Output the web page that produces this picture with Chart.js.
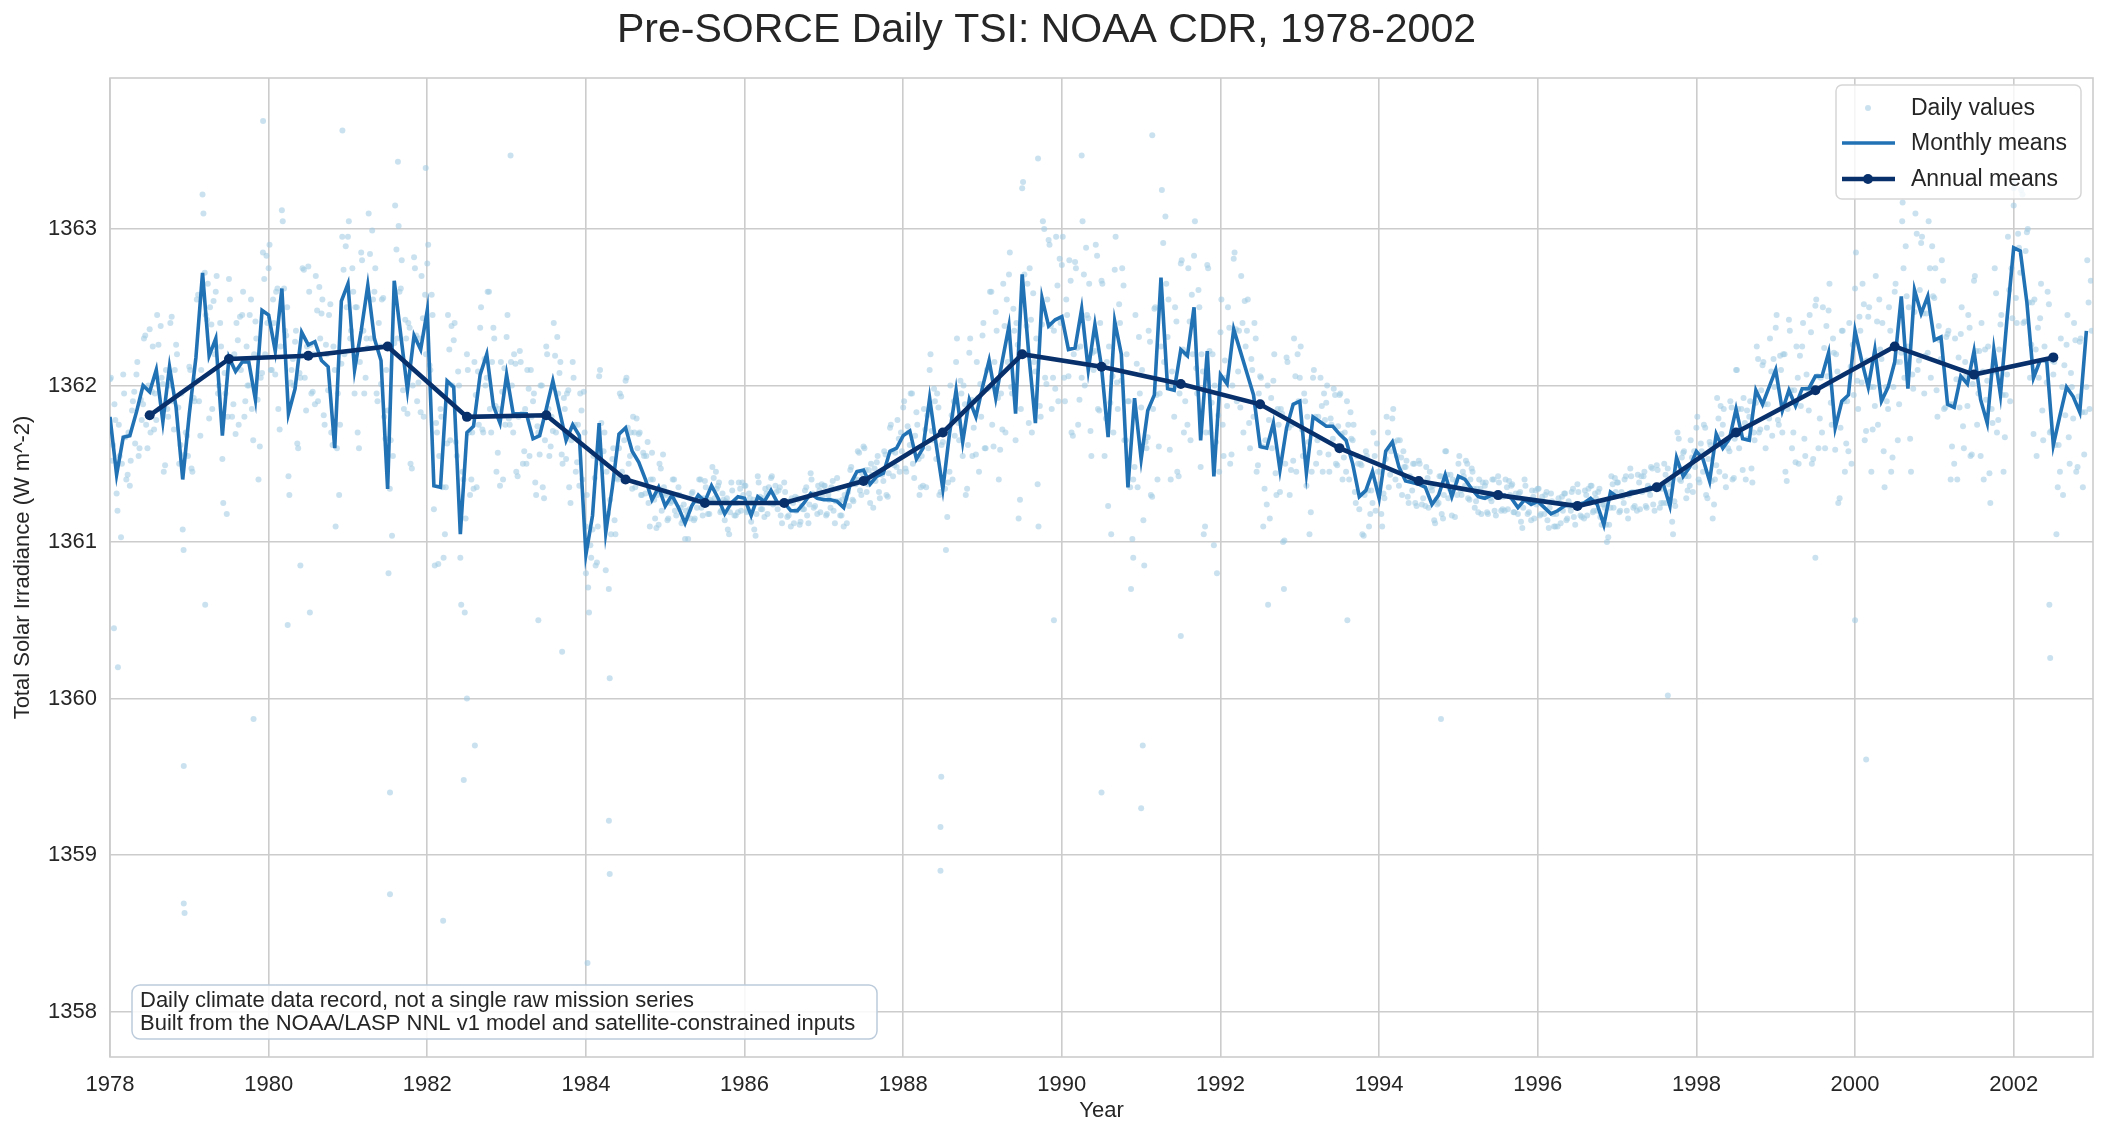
<!DOCTYPE html>
<html lang="en">
<head>
<meta charset="UTF-8">
<title>Pre-SORCE Daily TSI: NOAA CDR, 1978-2002</title>
<script src="https://cdn.jsdelivr.net/npm/chart.js"></script>
<style>
  html, body { margin: 0; padding: 0; background: #fff; }
  canvas { display: block; }
</style>
</head>
<body>
<canvas id="tsiChart" width="2108" height="1141"></canvas>
<script>
// monthly means, Jan 1978 .. Dec 2002 (W m^-2)
const monthStartYear = 1978;
const monthlyTSI = [
  1361.80, 1361.43, 1361.67, 1361.68, 1361.83, 1362.00, 1361.96, 1362.10, 1361.77, 1362.12, 1361.86, 1361.40,
  1361.82, 1362.18, 1362.72, 1362.19, 1362.30, 1361.68, 1362.18, 1362.09, 1362.15, 1362.15, 1361.91, 1362.48,
  1362.45, 1362.22, 1362.62, 1361.82, 1361.98, 1362.34, 1362.26, 1362.28, 1362.16, 1362.12, 1361.60, 1362.54,
  1362.65, 1362.10, 1362.35, 1362.64, 1362.30, 1362.16, 1361.34, 1362.67, 1362.32, 1361.97, 1362.32, 1362.23,
  1362.48, 1361.36, 1361.35, 1362.03, 1361.99, 1361.05, 1361.70, 1361.74, 1362.07, 1362.20, 1361.87, 1361.76,
  1362.07, 1361.82, 1361.82, 1361.82, 1361.66, 1361.68, 1361.85, 1362.03, 1361.84, 1361.65, 1361.75, 1361.68,
  1360.92, 1361.17, 1361.76, 1361.06, 1361.35, 1361.69, 1361.73, 1361.58, 1361.51, 1361.40, 1361.27, 1361.35,
  1361.23, 1361.30, 1361.22, 1361.12, 1361.23, 1361.30, 1361.26, 1361.36, 1361.28, 1361.18, 1361.25, 1361.29,
  1361.28, 1361.17, 1361.29, 1361.26, 1361.33, 1361.25, 1361.25, 1361.20, 1361.20, 1361.25, 1361.31, 1361.28,
  1361.27, 1361.27, 1361.26, 1361.22, 1361.37, 1361.45, 1361.46, 1361.37, 1361.42, 1361.44, 1361.58, 1361.60,
  1361.68, 1361.71, 1361.53, 1361.60, 1361.92, 1361.62, 1361.34, 1361.69, 1361.97, 1361.64, 1361.91, 1361.80,
  1361.99, 1362.16, 1361.92, 1362.16, 1362.38, 1361.82, 1362.71, 1362.20, 1361.76, 1362.56, 1362.38, 1362.42,
  1362.44, 1362.23, 1362.24, 1362.49, 1362.10, 1362.39, 1362.12, 1361.67, 1362.41, 1362.20, 1361.35, 1361.92,
  1361.53, 1361.84, 1361.94, 1362.69, 1361.98, 1361.97, 1362.23, 1362.19, 1362.50, 1361.65, 1362.22, 1361.42,
  1362.07, 1362.01, 1362.36, 1362.22, 1362.08, 1361.94, 1361.61, 1361.60, 1361.76, 1361.46, 1361.73, 1361.88,
  1361.90, 1361.44, 1361.80, 1361.77, 1361.74, 1361.74, 1361.69, 1361.65, 1361.50, 1361.29, 1361.33, 1361.45,
  1361.28, 1361.58, 1361.64, 1361.48, 1361.39, 1361.38, 1361.37, 1361.35, 1361.24, 1361.30, 1361.43, 1361.29,
  1361.42, 1361.40, 1361.34, 1361.29, 1361.28, 1361.30, 1361.29, 1361.30, 1361.28, 1361.22, 1361.27, 1361.24,
  1361.26, 1361.22, 1361.18, 1361.20, 1361.23, 1361.24, 1361.24, 1361.25, 1361.28, 1361.24, 1361.11, 1361.32,
  1361.29, 1361.30, 1361.32, 1361.32, 1361.33, 1361.35, 1361.34, 1361.37, 1361.23, 1361.54, 1361.42, 1361.48,
  1361.58, 1361.53, 1361.39, 1361.69, 1361.60, 1361.66, 1361.85, 1361.66, 1361.65, 1361.97, 1361.88, 1361.99,
  1362.10, 1361.84, 1361.97, 1361.87, 1361.98, 1361.98, 1362.06, 1362.06, 1362.21, 1361.73, 1361.90, 1361.94,
  1362.35, 1362.16, 1361.99, 1362.23, 1361.90, 1361.99, 1362.15, 1362.57, 1361.98, 1362.61, 1362.46, 1362.57,
  1362.29, 1362.31, 1361.88, 1361.86, 1362.06, 1362.01, 1362.22, 1361.91, 1361.76, 1362.23, 1361.94, 1362.43,
  1362.88, 1362.86, 1362.53, 1362.05, 1362.16, 1362.16, 1361.62, 1361.81, 1361.99, 1361.93, 1361.83, 1362.35
];

const annualYears = [1978.5, 1979.5, 1980.5, 1981.5, 1982.5, 1983.5, 1984.5, 1985.5, 1986.5, 1987.5, 1988.5, 1989.5,
  1990.5, 1991.5, 1992.5, 1993.5, 1994.5, 1995.5, 1996.5, 1997.5, 1998.5, 1999.5, 2000.5, 2001.5, 2002.5];
const annualTSI = [1361.81, 1362.17, 1362.19, 1362.25, 1361.80, 1361.81, 1361.40, 1361.25, 1361.25, 1361.39, 1361.70, 1362.20,
  1362.12, 1362.01, 1361.88, 1361.60, 1361.39, 1361.30, 1361.23, 1361.35, 1361.70, 1361.97, 1362.25, 1362.07, 1362.18];

// daily readings on days 5 / 15 / 25 of each month, one line per year
const dailyTSI = [
  1362.05,1361.62,1361.78, 1361.20,1361.55,1361.50, 1361.95,1361.40,1361.70, 1361.52,1361.90,1361.63, 1362.15,1361.60,1361.78, 1362.30,1361.75,1362.00, 1361.70,1362.25,1361.95, 1362.45,1361.85,1362.05, 1361.45,1362.10,1361.80, 1362.40,1361.90,1362.10, 1362.20,1361.50,1361.95, 1360.95,1361.70,1361.55,
  1362.10,1361.45,1361.90, 1362.55,1361.90,1362.10, 1363.10,1362.45,1362.65, 1362.50,1361.85,1362.20, 1362.70,1362.00,1362.25, 1361.25,1361.95,1361.80, 1362.55,1361.80,1362.20, 1362.40,1361.75,1362.10, 1362.60,1361.90,1362.00, 1362.45,1361.85,1362.20, 1362.30,1361.40,1362.05, 1362.85,1362.20,1362.40,
  1362.90,1362.10,1362.40, 1362.60,1361.85,1362.25, 1363.05,1362.35,1362.50, 1361.30,1362.10,1362.00, 1362.35,1361.60,1362.05, 1362.75,1362.05,1362.25, 1362.60,1361.95,1362.20, 1362.70,1361.90,1362.30, 1362.55,1361.75,1362.20, 1362.45,1361.70,1362.25, 1361.10,1361.95,1361.75, 1362.95,1362.20,1362.50,
  1363.05,1362.35,1362.60, 1362.50,1361.70,1362.15, 1362.80,1361.95,1362.30, 1363.10,1362.30,1362.55, 1362.75,1361.90,1362.25, 1362.55,1361.80,1362.10, 1360.80,1361.65,1361.55, 1363.15,1362.30,1362.60, 1362.80,1361.85,1362.30, 1362.40,1361.50,1362.00, 1362.75,1361.90,1362.30, 1362.70,1361.80,1362.20,
  1362.90,1362.10,1362.45, 1360.85,1361.70,1361.55, 1361.80,1360.90,1361.35, 1362.45,1361.65,1362.00, 1362.40,1361.55,1362.00, 1360.60,1361.40,1361.15, 1362.10,1361.30,1361.70, 1362.15,1361.35,1361.75, 1362.50,1361.70,1362.00, 1362.60,1361.85,1362.15, 1362.30,1361.45,1361.85, 1362.15,1361.40,1361.75,
  1362.45,1361.75,1362.00, 1362.20,1361.45,1361.80, 1362.15,1361.50,1361.85, 1362.10,1361.55,1361.80, 1361.95,1361.30,1361.70, 1362.00,1361.35,1361.65, 1362.20,1361.55,1361.80, 1362.40,1361.70,1361.95, 1362.15,1361.50,1361.85, 1361.95,1361.35,1361.65, 1362.05,1361.45,1361.75, 1361.95,1361.40,1361.70,
  1361.30,1360.55,1360.90, 1361.55,1360.85,1361.10, 1362.10,1361.50,1361.70, 1361.45,1360.70,1361.05, 1361.60,1361.05,1361.40, 1361.95,1361.45,1361.65, 1362.05,1361.50,1361.70, 1361.80,1361.35,1361.60, 1361.70,1361.30,1361.55, 1361.55,1361.25,1361.40, 1361.40,1361.15,1361.30, 1361.50,1361.20,1361.35,
  1361.30,1361.15,1361.25, 1361.40,1361.20,1361.30, 1361.30,1361.12,1361.24, 1361.20,1361.02,1361.15, 1361.32,1361.15,1361.22, 1361.40,1361.22,1361.28, 1361.35,1361.18,1361.27, 1361.48,1361.28,1361.34, 1361.38,1361.20,1361.27, 1361.26,1361.08,1361.19, 1361.33,1361.17,1361.25, 1361.38,1361.20,1361.30,
  1361.36,1361.20,1361.28, 1361.25,1361.08,1361.18, 1361.38,1361.21,1361.28, 1361.34,1361.18,1361.25, 1361.42,1361.25,1361.32, 1361.33,1361.17,1361.25, 1361.32,1361.16,1361.26, 1361.28,1361.12,1361.20, 1361.27,1361.13,1361.21, 1361.33,1361.17,1361.24, 1361.40,1361.22,1361.30, 1361.36,1361.19,1361.29,
  1361.36,1361.18,1361.27, 1361.35,1361.20,1361.26, 1361.34,1361.17,1361.27, 1361.30,1361.12,1361.23, 1361.48,1361.26,1361.37, 1361.58,1361.33,1361.44, 1361.60,1361.32,1361.46, 1361.50,1361.22,1361.39, 1361.55,1361.28,1361.43, 1361.58,1361.30,1361.44, 1361.75,1361.42,1361.57, 1361.78,1361.45,1361.58,
  1361.90,1361.45,1361.70, 1361.95,1361.50,1361.68, 1361.75,1361.30,1361.55, 1361.85,1361.35,1361.60, 1362.20,1361.65,1361.90, 1361.95,1361.30,1361.62, 1361.70,1360.95,1361.38, 1362.00,1361.40,1361.68, 1362.30,1361.65,1361.95, 1362.00,1361.30,1361.62, 1362.30,1361.55,1361.90, 1362.15,1361.45,1361.80,
  1362.40,1361.60,1361.98, 1362.60,1361.75,1362.15, 1362.35,1361.40,1361.95, 1362.65,1361.70,1362.15, 1362.85,1361.95,1362.35, 1362.40,1361.15,1361.85, 1363.30,1362.20,1362.65, 1362.75,1361.70,1362.15, 1362.30,1361.10,1361.80, 1363.05,1362.05,1362.55, 1362.90,1361.85,1362.35, 1362.95,1361.90,1362.40,
  1362.95,1361.90,1362.45, 1362.80,1361.70,1362.20, 1362.75,1361.75,1362.25, 1363.05,1362.00,1362.45, 1362.65,1361.55,1362.10, 1362.90,1361.85,1362.40, 1362.65,1361.55,1362.15, 1362.25,1361.05,1361.70, 1362.95,1361.85,1362.40, 1362.75,1361.65,1362.20, 1361.90,1360.70,1361.40, 1362.45,1361.35,1361.95,
  1362.10,1360.85,1361.60, 1362.35,1361.30,1361.85, 1362.50,1361.40,1361.95, 1363.25,1362.15,1362.65, 1362.55,1361.40,1362.00, 1362.50,1361.45,1361.95, 1362.80,1361.70,1362.20, 1362.75,1361.65,1362.20, 1363.05,1361.95,1362.50, 1362.20,1361.05,1361.70, 1362.75,1361.70,1362.20, 1362.00,1360.80,1361.45,
  1362.55,1361.55,1362.05, 1362.50,1361.50,1362.00, 1362.85,1361.90,1362.35, 1362.70,1361.70,1362.25, 1362.55,1361.60,1362.10, 1362.40,1361.45,1361.95, 1362.05,1361.10,1361.65, 1362.00,1361.15,1361.60, 1362.20,1361.30,1361.75, 1361.85,1361.00,1361.50, 1362.15,1361.30,1361.75, 1362.30,1361.45,1361.90,
  1362.25,1361.55,1361.90, 1361.80,1361.05,1361.45, 1362.10,1361.50,1361.80, 1362.05,1361.45,1361.78, 1362.00,1361.45,1361.75, 1361.98,1361.50,1361.74, 1361.95,1361.40,1361.70, 1361.90,1361.40,1361.66, 1361.75,1361.25,1361.50, 1361.50,1361.05,1361.30, 1361.55,1361.10,1361.33, 1361.70,1361.20,1361.45,
  1361.45,1361.10,1361.28, 1361.80,1361.35,1361.58, 1361.85,1361.40,1361.65, 1361.65,1361.30,1361.48, 1361.52,1361.25,1361.40, 1361.50,1361.25,1361.38, 1361.50,1361.24,1361.37, 1361.48,1361.22,1361.35, 1361.36,1361.12,1361.24, 1361.42,1361.18,1361.30, 1361.58,1361.28,1361.43, 1361.40,1361.16,1361.30,
  1361.55,1361.30,1361.42, 1361.52,1361.28,1361.40, 1361.45,1361.22,1361.34, 1361.40,1361.18,1361.29, 1361.38,1361.18,1361.28, 1361.40,1361.20,1361.30, 1361.38,1361.20,1361.29, 1361.40,1361.21,1361.30, 1361.37,1361.19,1361.28, 1361.31,1361.13,1361.22, 1361.36,1361.18,1361.27, 1361.33,1361.15,1361.24,
  1361.34,1361.18,1361.26, 1361.30,1361.14,1361.22, 1361.26,1361.10,1361.18, 1361.28,1361.12,1361.20, 1361.31,1361.15,1361.23, 1361.32,1361.16,1361.24, 1361.32,1361.17,1361.24, 1361.33,1361.17,1361.25, 1361.36,1361.20,1361.28, 1361.32,1361.16,1361.24, 1361.22,1361.00,1361.11, 1361.42,1361.22,1361.32,
  1361.38,1361.20,1361.29, 1361.40,1361.20,1361.30, 1361.42,1361.22,1361.32, 1361.43,1361.21,1361.32, 1361.45,1361.22,1361.33, 1361.48,1361.24,1361.35, 1361.46,1361.22,1361.34, 1361.50,1361.25,1361.37, 1361.38,1361.05,1361.23, 1361.70,1361.40,1361.54, 1361.58,1361.28,1361.42, 1361.65,1361.32,1361.48,
  1361.80,1361.38,1361.58, 1361.75,1361.30,1361.53, 1361.62,1361.15,1361.40, 1361.92,1361.45,1361.69, 1361.85,1361.35,1361.60, 1361.90,1361.40,1361.66, 1362.10,1361.60,1361.85, 1361.92,1361.40,1361.66, 1361.90,1361.38,1361.65, 1362.25,1361.70,1361.97, 1362.15,1361.60,1361.88, 1362.30,1361.68,1361.99,
  1362.45,1361.75,1362.10, 1362.20,1361.45,1361.85, 1362.35,1361.60,1361.97, 1362.25,1361.50,1361.87, 1362.40,1361.55,1361.98, 1362.45,1361.50,1361.98, 1362.55,1361.60,1362.05, 1362.50,1361.60,1362.06, 1362.65,1361.75,1362.21, 1362.20,1361.25,1361.73, 1362.35,1361.45,1361.90, 1362.40,1361.50,1361.94,
  1362.85,1361.85,1362.35, 1362.65,1361.65,1362.16, 1362.50,1361.45,1361.99, 1362.70,1361.75,1362.23, 1362.40,1361.35,1361.90, 1362.50,1361.45,1361.99, 1362.65,1361.65,1362.15, 1363.05,1362.05,1362.57, 1362.50,1361.45,1361.98, 1363.10,1362.10,1362.61, 1362.95,1361.95,1362.46, 1363.05,1362.05,1362.57,
  1362.75,1361.80,1362.29, 1362.80,1361.85,1362.31, 1362.35,1361.40,1361.88, 1362.30,1361.40,1361.86, 1362.50,1361.60,1362.06, 1362.45,1361.55,1362.01, 1362.70,1361.75,1362.22, 1362.40,1361.40,1361.91, 1362.25,1361.25,1361.76, 1362.75,1361.70,1362.23, 1362.45,1361.45,1361.94, 1362.95,1361.90,1362.43,
  1363.30,1362.40,1362.88, 1363.25,1362.40,1362.86, 1363.00,1362.05,1362.53, 1362.55,1361.55,1362.05, 1362.65,1361.65,1362.16, 1362.60,1361.70,1362.16, 1362.15,1361.05,1361.62, 1362.30,1361.30,1361.81, 1362.45,1361.50,1361.99, 1362.40,1361.45,1361.93, 1362.30,1361.35,1361.83, 1362.80,1361.85,1362.35
];

// daily readings on days 1 / 11 / 21 of each month, one line per year
const dailyTSI2 = [
  1362.04,1361.52,1361.88, 1361.31,1361.75,1361.03, 1362.07,1361.67,1361.43, 1361.36,1361.84,1361.96, 1362.07,1361.55,1361.91, 1361.88,1362.32,1361.60, 1362.36,1361.96,1361.72, 1361.78,1362.26,1362.38, 1362.01,1361.49,1361.85, 1362.00,1362.44,1361.72, 1362.26,1361.86,1361.62, 1361.08,1361.56,1361.68,
  1362.12,1361.47,1361.92, 1362.03,1362.58,1361.68, 1363.22,1362.72,1362.42, 1361.79,1362.39,1362.54, 1362.60,1361.95,1362.40, 1361.53,1362.08,1361.18, 1362.68,1362.18,1361.88, 1361.69,1362.29,1362.44, 1362.45,1361.80,1362.25, 1362.00,1362.55,1361.65, 1362.41,1361.91,1361.61, 1362.08,1362.68,1362.83,
  1362.75,1362.10,1362.55, 1362.07,1362.62,1361.72, 1363.12,1362.62,1362.32, 1361.42,1362.02,1362.17, 1362.28,1361.63,1362.08, 1362.19,1362.74,1361.84, 1362.76,1362.26,1361.96, 1361.88,1362.48,1362.63, 1362.46,1361.81,1362.26, 1361.97,1362.52,1361.62, 1362.10,1361.60,1361.30, 1362.14,1362.74,1362.89,
  1362.95,1362.30,1362.75, 1361.95,1362.50,1361.60, 1362.85,1362.35,1362.05, 1362.24,1362.84,1362.99, 1362.60,1361.95,1362.40, 1362.01,1362.56,1361.66, 1361.84,1361.34,1361.04, 1362.27,1362.87,1363.02, 1362.62,1361.97,1362.42, 1361.82,1362.37,1361.47, 1362.82,1362.32,1362.02, 1361.83,1362.43,1362.58,
  1362.78,1362.13,1362.58, 1361.21,1361.76,1360.86, 1361.85,1361.35,1361.05, 1361.63,1362.23,1362.38, 1362.29,1361.64,1362.09, 1360.90,1361.45,1360.55, 1362.20,1361.70,1361.40, 1361.34,1361.94,1362.09, 1362.37,1361.72,1362.17, 1362.05,1362.60,1361.70, 1362.37,1361.87,1361.57, 1361.36,1361.96,1362.11,
  1362.31,1361.79,1362.15, 1361.70,1362.14,1361.42, 1362.22,1361.82,1361.58, 1361.50,1361.98,1362.10, 1361.90,1361.38,1361.74, 1361.56,1362.00,1361.28, 1362.25,1361.85,1361.61, 1361.71,1362.19,1362.31, 1362.08,1361.56,1361.92, 1361.53,1361.97,1361.25, 1362.15,1361.75,1361.51, 1361.36,1361.84,1361.96,
  1361.10,1360.71,1360.98, 1361.08,1361.41,1360.87, 1362.06,1361.76,1361.58, 1360.82,1361.18,1361.27, 1361.53,1361.14,1361.41, 1361.60,1361.93,1361.39, 1362.03,1361.73,1361.55, 1361.34,1361.70,1361.79, 1361.69,1361.30,1361.57, 1361.31,1361.64,1361.10, 1361.57,1361.27,1361.09, 1361.11,1361.47,1361.56,
  1361.31,1361.14,1361.26, 1361.26,1361.40,1361.17, 1361.35,1361.22,1361.14, 1361.02,1361.17,1361.21, 1361.31,1361.14,1361.26, 1361.26,1361.40,1361.17, 1361.39,1361.26,1361.18, 1361.26,1361.41,1361.45, 1361.36,1361.19,1361.31, 1361.14,1361.28,1361.05, 1361.38,1361.25,1361.17, 1361.19,1361.34,1361.38,
  1361.36,1361.19,1361.31, 1361.13,1361.27,1361.04, 1361.42,1361.29,1361.21, 1361.16,1361.31,1361.35, 1361.41,1361.24,1361.36, 1361.21,1361.35,1361.12, 1361.38,1361.25,1361.17, 1361.10,1361.25,1361.29, 1361.28,1361.11,1361.23, 1361.21,1361.35,1361.12, 1361.44,1361.31,1361.23, 1361.18,1361.33,1361.37,
  1361.36,1361.17,1361.30, 1361.22,1361.39,1361.12, 1361.41,1361.26,1361.17, 1361.10,1361.28,1361.32, 1361.46,1361.27,1361.40, 1361.40,1361.57,1361.30, 1361.61,1361.46,1361.37, 1361.25,1361.43,1361.47, 1361.51,1361.32,1361.45, 1361.39,1361.56,1361.29, 1361.73,1361.58,1361.49, 1361.48,1361.66,1361.70,
  1361.86,1361.47,1361.74, 1361.62,1361.95,1361.41, 1361.83,1361.53,1361.35, 1361.36,1361.72,1361.81, 1362.10,1361.71,1361.98, 1361.53,1361.86,1361.32, 1361.64,1361.34,1361.16, 1361.45,1361.81,1361.90, 1362.15,1361.76,1362.03, 1361.55,1361.88,1361.34, 1362.21,1361.91,1361.73, 1361.56,1361.92,1362.01,
  1362.32,1361.60,1362.10, 1361.99,1362.60,1361.61, 1362.47,1361.92,1361.59, 1361.72,1362.38,1362.55, 1362.71,1361.99,1362.49, 1361.65,1362.26,1361.27, 1363.26,1362.71,1362.38, 1361.76,1362.42,1362.59, 1362.09,1361.37,1361.87, 1362.39,1363.00,1362.01, 1362.93,1362.38,1362.05, 1361.98,1362.64,1362.81,
  1362.77,1362.05,1362.55, 1362.06,1362.67,1361.68, 1362.79,1362.24,1361.91, 1362.05,1362.71,1362.88, 1362.43,1361.71,1362.21, 1362.22,1362.83,1361.84, 1362.67,1362.12,1361.79, 1361.23,1361.89,1362.06, 1362.74,1362.02,1362.52, 1362.03,1362.64,1361.65, 1361.90,1361.35,1361.02, 1361.48,1362.14,1362.31,
  1361.86,1361.14,1361.64, 1361.67,1362.28,1361.29, 1362.49,1361.94,1361.61, 1362.25,1362.91,1363.08, 1362.31,1361.59,1362.09, 1361.80,1362.41,1361.42, 1362.78,1362.23,1361.90, 1361.75,1362.41,1362.58, 1362.83,1362.11,1362.61, 1361.48,1362.09,1361.10, 1362.77,1362.22,1361.89, 1360.98,1361.64,1361.81,
  1362.34,1361.75,1362.16, 1361.87,1362.37,1361.56, 1362.81,1362.36,1362.09, 1361.86,1362.40,1362.54, 1362.35,1361.76,1362.17, 1361.80,1362.30,1361.49, 1362.06,1361.61,1361.34, 1361.24,1361.78,1361.92, 1362.03,1361.44,1361.85, 1361.32,1361.82,1361.01, 1362.18,1361.73,1361.46, 1361.52,1362.06,1362.20,
  1362.05,1361.72,1361.95, 1361.36,1361.64,1361.19, 1362.05,1361.80,1361.65, 1361.57,1361.87,1361.95, 1361.89,1361.56,1361.79, 1361.66,1361.94,1361.49, 1361.94,1361.69,1361.54, 1361.45,1361.75,1361.83, 1361.65,1361.32,1361.55, 1361.21,1361.49,1361.04, 1361.58,1361.33,1361.18, 1361.25,1361.55,1361.63,
  1361.37,1361.18,1361.31, 1361.53,1361.70,1361.43, 1361.79,1361.64,1361.55, 1361.36,1361.54,1361.58, 1361.48,1361.29,1361.42, 1361.33,1361.50,1361.23, 1361.52,1361.37,1361.28, 1361.23,1361.41,1361.45, 1361.33,1361.14,1361.27, 1361.25,1361.42,1361.15, 1361.58,1361.43,1361.34, 1361.17,1361.35,1361.39,
  1361.50,1361.33,1361.45, 1361.36,1361.50,1361.27, 1361.47,1361.34,1361.26, 1361.19,1361.34,1361.38, 1361.36,1361.19,1361.31, 1361.26,1361.40,1361.17, 1361.42,1361.29,1361.21, 1361.20,1361.35,1361.39, 1361.36,1361.19,1361.31, 1361.18,1361.32,1361.09, 1361.40,1361.27,1361.19, 1361.14,1361.29,1361.33,
  1361.34,1361.17,1361.29, 1361.18,1361.32,1361.09, 1361.31,1361.18,1361.10, 1361.10,1361.25,1361.29, 1361.31,1361.14,1361.26, 1361.20,1361.34,1361.11, 1361.37,1361.24,1361.16, 1361.15,1361.30,1361.34, 1361.36,1361.19,1361.31, 1361.20,1361.34,1361.11, 1361.24,1361.11,1361.03, 1361.22,1361.37,1361.41,
  1361.38,1361.19,1361.32, 1361.25,1361.42,1361.15, 1361.47,1361.32,1361.23, 1361.20,1361.38,1361.42, 1361.42,1361.23,1361.36, 1361.30,1361.47,1361.20, 1361.49,1361.34,1361.25, 1361.25,1361.43,1361.47, 1361.32,1361.13,1361.26, 1361.49,1361.66,1361.39, 1361.57,1361.42,1361.33, 1361.36,1361.54,1361.58,
  1361.73,1361.40,1361.63, 1361.45,1361.73,1361.28, 1361.64,1361.39,1361.24, 1361.49,1361.79,1361.87, 1361.75,1361.42,1361.65, 1361.58,1361.86,1361.41, 1362.10,1361.85,1361.70, 1361.46,1361.76,1361.84, 1361.80,1361.47,1361.70, 1361.89,1362.17,1361.72, 1362.13,1361.88,1361.73, 1361.79,1362.09,1362.17,
  1362.37,1361.78,1362.19, 1361.70,1362.20,1361.39, 1362.42,1361.97,1361.70, 1361.51,1362.05,1362.19, 1362.25,1361.66,1362.07, 1361.84,1362.34,1361.53, 1362.51,1362.06,1361.79, 1361.70,1362.24,1362.38, 1362.48,1361.89,1362.30, 1361.59,1362.09,1361.28, 1362.35,1361.90,1361.63, 1361.58,1362.12,1362.26,
  1362.62,1362.03,1362.44, 1362.02,1362.52,1361.71, 1362.44,1361.99,1361.72, 1361.87,1362.41,1362.55, 1362.17,1361.58,1361.99, 1361.85,1362.35,1361.54, 1362.60,1362.15,1361.88, 1362.21,1362.75,1362.89, 1362.25,1361.66,1362.07, 1362.47,1362.97,1362.16, 1362.91,1362.46,1362.19, 1362.21,1362.75,1362.89,
  1362.56,1361.97,1362.38, 1362.17,1362.67,1361.86, 1362.33,1361.88,1361.61, 1361.50,1362.04,1362.18, 1362.33,1361.74,1362.15, 1361.87,1362.37,1361.56, 1362.67,1362.22,1361.95, 1361.55,1362.09,1362.23, 1362.03,1361.44,1361.85, 1362.09,1362.59,1361.78, 1362.39,1361.94,1361.67, 1362.07,1362.61,1362.75,
  1363.15,1362.56,1362.97, 1362.72,1363.22,1362.41, 1362.98,1362.53,1362.26, 1361.69,1362.23,1362.37, 1362.43,1361.84,1362.25, 1362.02,1362.52,1361.71, 1362.07,1361.62,1361.35, 1361.45,1361.99,1362.13, 1362.26,1361.67,1362.08, 1361.79,1362.29,1361.48, 1362.28,1361.83,1361.56, 1361.99,1362.53,1362.67
];

// isolated daily excursions (decimal year, W m^-2)
const dailyExcursions = [
  [1978.05, 1360.45], [1978.10, 1360.20], [1978.93, 1358.69], [1978.94, 1358.63], [1978.93, 1359.57],
  [1979.20, 1360.60], [1979.81, 1359.87], [1979.93, 1363.69], [1980.24, 1360.47], [1980.40, 1360.85],
  [1980.52, 1360.55], [1980.93, 1363.63], [1981.53, 1359.40], [1981.53, 1358.75], [1981.63, 1363.43],
  [1981.98, 1363.39], [1982.20, 1358.58], [1982.46, 1359.48], [1982.50, 1360.00], [1982.60, 1359.70],
  [1983.05, 1363.47], [1983.40, 1360.50], [1983.70, 1360.30], [1984.00, 1360.80], [1984.02, 1358.31],
  [1984.29, 1359.22], [1984.30, 1358.88], [1984.30, 1360.13], [1988.47, 1359.18], [1988.47, 1358.90],
  [1988.48, 1359.50], [1989.70, 1363.45], [1989.90, 1360.50], [1990.25, 1363.47], [1990.50, 1359.40],
  [1990.90, 1360.90], [1991.00, 1359.30], [1991.02, 1359.70], [1991.14, 1363.60], [1991.50, 1360.40],
  [1992.60, 1360.60], [1992.80, 1360.70], [1993.60, 1360.50], [1994.78, 1359.87], [1997.64, 1360.02],
  [1999.50, 1360.90], [2000.00, 1360.50], [2000.14, 1359.61], [2000.60, 1363.17], [2002.00, 1363.26],
  [2002.45, 1360.60], [2002.46, 1360.26]
];

const xTicks = [1978, 1980, 1982, 1984, 1986, 1988, 1990, 1992, 1994, 1996, 1998, 2000, 2002];
const yTicks = [1358, 1359, 1360, 1361, 1362, 1363];

const noteLines = [
  'Daily climate data record, not a single raw mission series',
  'Built from the NOAA/LASP NNL v1 model and satellite-constrained inputs'
];

const FONT = '"Liberation Sans", Arial, sans-serif';
const INK = '#262626';

const monthlyPoints = monthlyTSI.map((v, i) => ({ x: monthStartYear + i / 12, y: v }));
const annualPoints = annualTSI.map((v, i) => ({ x: annualYears[i], y: v }));
const dayOf = (i, firstDay) => monthStartYear + (Math.floor(i / 3) + ((i % 3) * 10 + firstDay) / 30) / 12;
const dailyPoints = dailyTSI.map((v, i) => ({ x: dayOf(i, 4), y: v }))
  .concat(dailyTSI2.map((v, i) => ({ x: dayOf(i, 0), y: v })))
  .concat(dailyExcursions.map(p => ({ x: p[0], y: p[1] })));

function roundRect(ctx, x, y, w, h, r) {
  ctx.beginPath();
  ctx.moveTo(x + r, y);
  ctx.arcTo(x + w, y, x + w, y + h, r);
  ctx.arcTo(x + w, y + h, x, y + h, r);
  ctx.arcTo(x, y + h, x, y, r);
  ctx.arcTo(x, y, x + w, y, r);
  ctx.closePath();
}

const decorations = {
  id: 'decorations',
  beforeDatasetsDraw(chart) {
    const { ctx, chartArea: a } = chart;
    ctx.save();
    ctx.strokeStyle = '#cccccc';
    ctx.lineWidth = 1.6;
    ctx.strokeRect(a.left, a.top, a.right - a.left, a.bottom - a.top);
    ctx.restore();
  },
  afterDraw(chart) {
    const { ctx } = chart;
    const ds = chart.data.datasets;
    ctx.save();

    // legend, upper right
    roundRect(ctx, 1836, 85, 245, 114, 6);
    ctx.fillStyle = 'rgba(255,255,255,0.8)';
    ctx.fill();
    ctx.strokeStyle = '#d6d6d6';
    ctx.lineWidth = 1.5;
    ctx.stroke();
    ctx.font = '23px ' + FONT;
    ctx.textBaseline = 'middle';
    const rows = [108, 143, 179];
    ds.forEach((d, k) => {
      const y = rows[k];
      if (k === 0) {
        ctx.beginPath();
        ctx.arc(1868, y, 3, 0, Math.PI * 2);
        ctx.fillStyle = d.backgroundColor;
        ctx.fill();
      } else {
        ctx.beginPath();
        ctx.moveTo(1842, y);
        ctx.lineTo(1895, y);
        ctx.strokeStyle = d.borderColor;
        ctx.lineWidth = d.borderWidth;
        ctx.stroke();
        if (d.pointRadius > 0) {
          ctx.beginPath();
          ctx.arc(1868, y, d.pointRadius, 0, Math.PI * 2);
          ctx.fillStyle = d.pointBackgroundColor;
          ctx.fill();
        }
      }
      ctx.fillStyle = INK;
      ctx.fillText(d.label, 1911, y + 1);
    });

    // note box, lower left
    roundRect(ctx, 132, 985, 745, 54, 8);
    ctx.fillStyle = 'rgba(255,255,255,0.85)';
    ctx.fill();
    ctx.strokeStyle = '#bccbdb';
    ctx.lineWidth = 1.5;
    ctx.stroke();
    ctx.font = '22px ' + FONT;
    ctx.fillStyle = INK;
    ctx.fillText(noteLines[0], 140, 1001);
    ctx.fillText(noteLines[1], 140, 1024);
    ctx.restore();
  }
};

new Chart(document.getElementById('tsiChart'), {
  type: 'scatter',
  data: {
    datasets: [
      {
        label: 'Daily values',
        data: dailyPoints,
        pointRadius: 3,
        pointBorderWidth: 0,
        backgroundColor: 'rgba(158,202,225,0.55)',
        borderColor: 'rgba(0,0,0,0)',
        order: 3,
        clip: 0
      },
      {
        label: 'Monthly means',
        data: monthlyPoints,
        showLine: true,
        borderColor: '#2171b5',
        borderWidth: 3.6,
        pointRadius: 0,
        tension: 0,
        order: 2,
        clip: 0
      },
      {
        label: 'Annual means',
        data: annualPoints,
        showLine: true,
        borderColor: '#08306b',
        borderWidth: 4.6,
        pointRadius: 5,
        pointBackgroundColor: '#08306b',
        pointBorderWidth: 0,
        tension: 0,
        order: 1,
        clip: 0
      }
    ]
  },
  options: {
    responsive: false,
    animation: false,
    devicePixelRatio: 1,
    layout: { padding: { left: 0, right: 15, top: 0, bottom: 0 } },
    plugins: {
      legend: { display: false },
      tooltip: { enabled: false },
      title: {
        display: true,
        text: 'Pre-SORCE Daily TSI: NOAA CDR, 1978-2002',
        color: INK,
        font: { family: FONT, size: 41, weight: 'normal' },
        padding: { top: 6, bottom: 22.8 }
      }
    },
    scales: {
      x: {
        type: 'linear',
        min: 1978,
        max: 2003,
        afterBuildTicks: axis => { axis.ticks = xTicks.map(v => ({ value: v })); },
        afterFit: axis => { axis.height = 84; },
        grid: { color: '#cccccc', lineWidth: 1.6, drawTicks: false },
        border: { display: false },
        ticks: {
          color: INK,
          padding: 15,
          maxRotation: 0,
          font: { family: FONT, size: 22 },
          callback: v => String(v)
        },
        title: {
          display: true,
          text: 'Year',
          color: INK,
          font: { family: FONT, size: 22 },
          padding: { top: 0, bottom: 17 }
        }
      },
      y: {
        type: 'linear',
        min: 1357.71,
        max: 1363.965,
        afterBuildTicks: axis => { axis.ticks = yTicks.map(v => ({ value: v })); },
        afterFit: axis => { axis.width = 110; },
        grid: { color: '#cccccc', lineWidth: 1.6, drawTicks: false },
        border: { display: false },
        ticks: {
          color: INK,
          padding: 13,
          font: { family: FONT, size: 22 },
          callback: v => String(v)
        },
        title: {
          display: true,
          text: 'Total Solar Irradiance (W m^-2)',
          color: INK,
          font: { family: FONT, size: 22 },
          padding: { top: 10, bottom: 0 }
        }
      }
    }
  },
  plugins: [decorations]
});
</script>
</body>
</html>
